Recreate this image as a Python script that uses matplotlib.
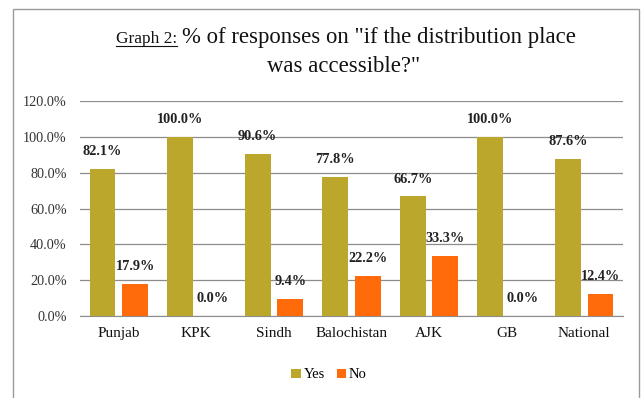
import numpy as np
import matplotlib
matplotlib.use('Agg')
import matplotlib.pyplot as plt
from matplotlib.patches import Rectangle

# 数据
regions = ['Punjab', 'KPK', 'Sindh', 'Balochistan', 'AJK', 'GB', 'National']
yes_pct = [82.1, 100.0, 90.6, 77.8, 66.7, 100.0, 87.6]
no_pct = [17.9, 0.0, 9.4, 22.2, 33.3, 0.0, 12.4]
y_ticks = [0, 20, 40, 60, 80, 100, 120]

yes_color = '#BBA72C'
no_color = '#FF6A0A'
serif = 'Liberation Serif'

plt.rcParams['font.family'] = serif

W, H = 641, 398
fig = plt.figure(figsize=(W / 100, H / 100), dpi=100)
ax = fig.add_axes([80 / W, 1 - 316 / H, 543 / W, 215 / H])

# 外边框
fig.patches.append(Rectangle((13 / W, -0.05), 626 / W, 1.05 - 9 / H,
                             transform=fig.transFigure, fill=False,
                             edgecolor='#9a9a9a', linewidth=1.0))

x = np.arange(len(regions))
w = 0.335
gap = 0.085
b1 = ax.bar(x - (w + gap) / 2, yes_pct, w, color=yes_color, label='Yes', zorder=3)
b2 = ax.bar(x + (w + gap) / 2, no_pct, w, color=no_color, label='No', zorder=3)

# 数值标签
for bars, vals in [(b1, yes_pct), (b2, no_pct)]:
    for r, v in zip(bars, vals):
        ax.annotate('{:.1f}%'.format(v), (r.get_x() + r.get_width() / 2, v),
                    xytext=(0, 12.5), textcoords='offset points',
                    ha='center', va='center', fontsize=10.3, fontweight='bold',
                    color='#222222')

ax.set_xlim(-0.5, len(regions) - 0.5)
ax.set_ylim(0, 120)
ax.set_yticks(y_ticks)
ax.set_yticklabels(['{:.1f}%'.format(t) for t in y_ticks], fontsize=10.3, color='#333333')
ax.set_xticks(x)
ax.set_xticklabels(regions, fontsize=11, color='#111111')
ax.tick_params(length=0)
ax.tick_params(axis='x', pad=8)
ax.tick_params(axis='y', pad=9.5)
ax.grid(axis='y', color='#8c8c8c', linewidth=0.9, zorder=0)
for s in ['top', 'right', 'left']:
    ax.spines[s].set_visible(False)
ax.spines['bottom'].set_color('#8c8c8c')

# 标题
fig.text(116 / W, 1 - 43 / H, 'Graph 2:', fontsize=12.4, ha='left', va='baseline',
         color='#111111')
fig.add_artist(plt.Line2D([116 / W, 177 / W], [1 - 46 / H, 1 - 46 / H],
                          color='#111111', linewidth=0.8))
fig.text(182 / W, 1 - 43 / H, '% of responses on "if the distribution place',
         fontsize=16.4, ha='left', va='baseline', color='#111111')
fig.text(344 / W, 1 - 72 / H, 'was accessible?"', fontsize=16.4,
         ha='center', va='baseline', color='#111111')

fig.legend(loc='center', bbox_to_anchor=(329 / W, 1 - 375 / H), ncol=2,
           frameon=False, fontsize=10.5, handlelength=0.65, handleheight=0.65,
           handletextpad=0.2, columnspacing=0.8)

fig.savefig('out.png', dpi=100)
